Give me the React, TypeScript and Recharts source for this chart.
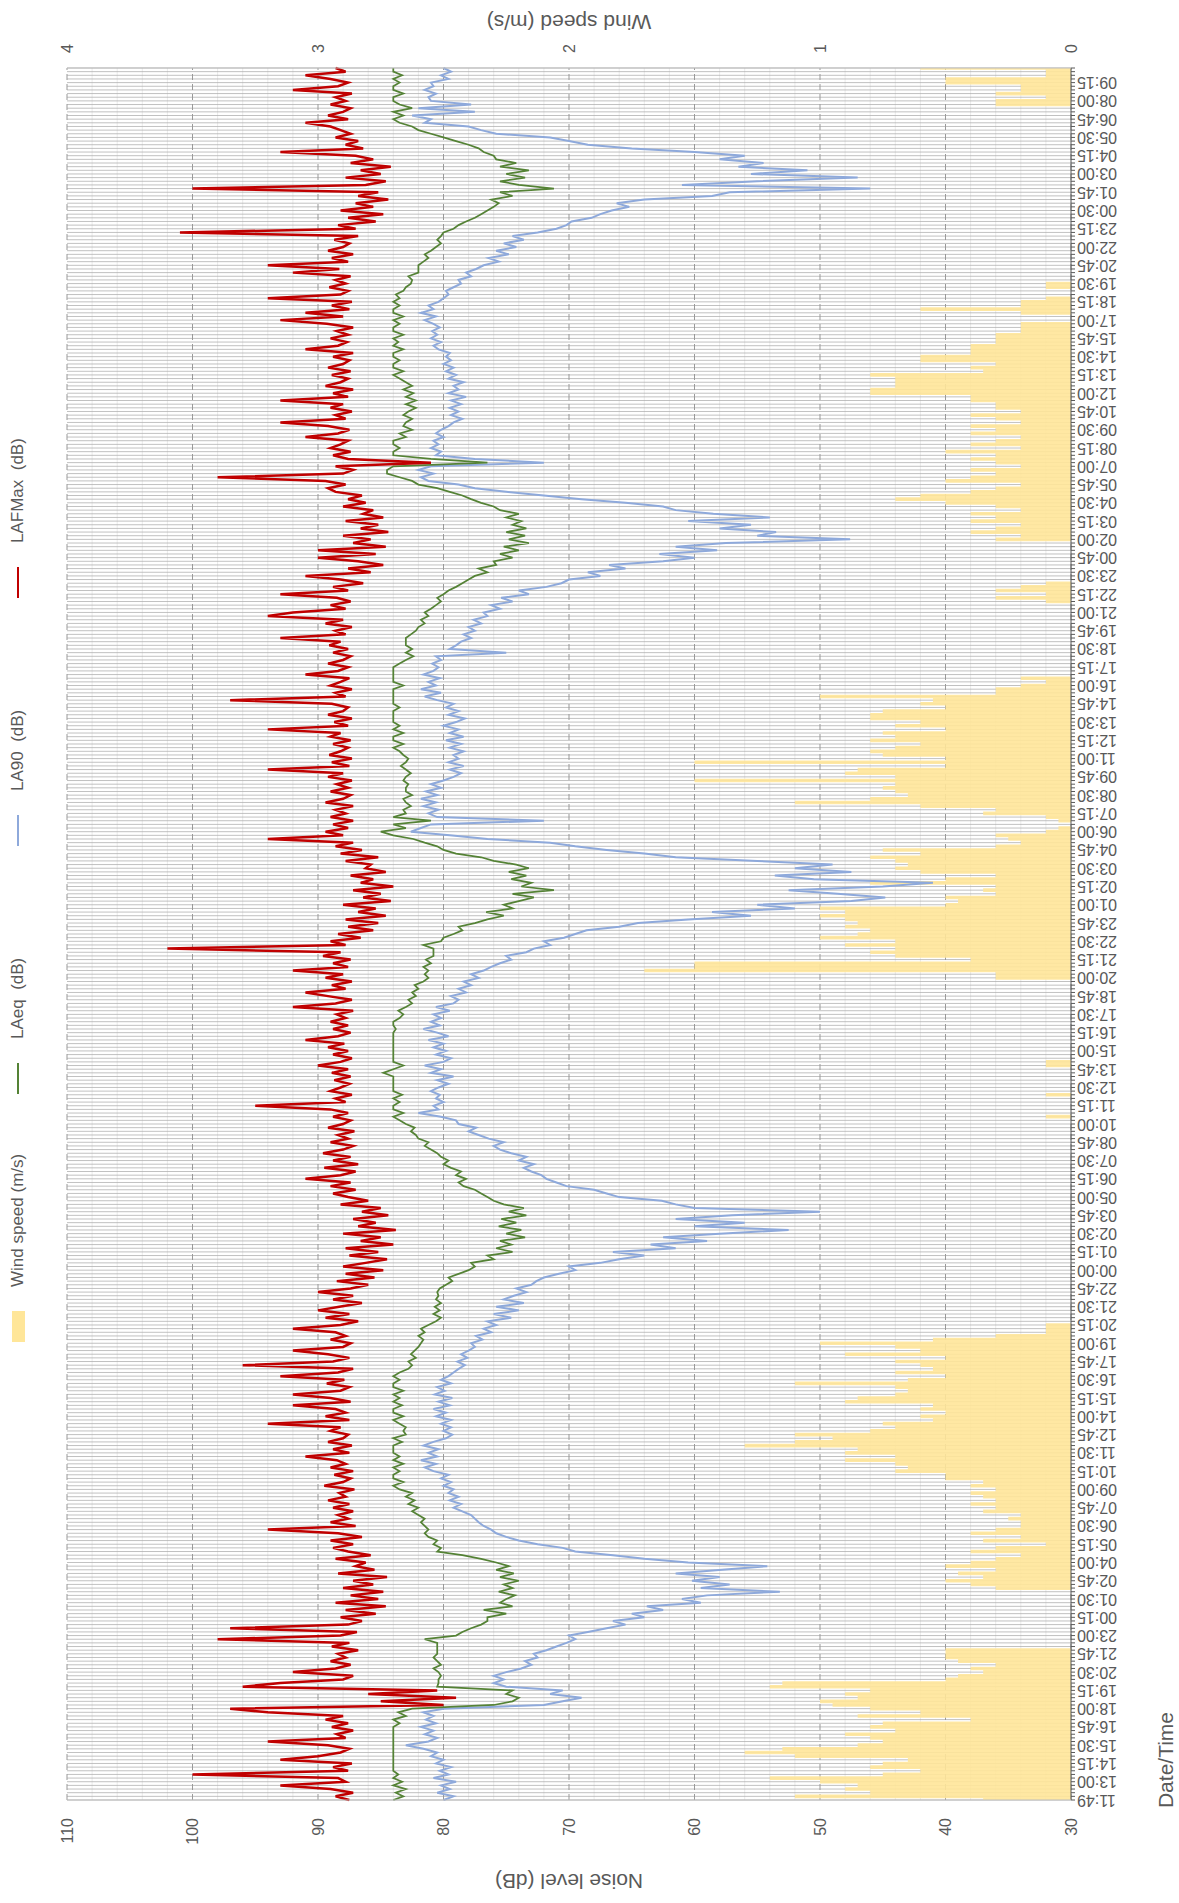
import React from "react";
import {
  ComposedChart,
  Line,
  Area,
  XAxis,
  YAxis,
  CartesianGrid,
  Legend,
  Label,
} from "recharts";

// chart is drawn in its natural orientation and then turned 90deg to the left
const W = 1903;
const H = 1179;
const FONT = '"Liberation Sans", Arial, Helvetica, sans-serif';
const TEXT = "#595959";

const START_LABEL = "11:49";
const FIRST_SLOT = 12 * 60; // 12:00
const STEP_MIN = 15;

const noiseTicks = [30, 40, 50, 60, 70, 80, 90, 100, 110];
const noiseMinor = [32, 34, 36, 38, 42, 44, 46, 48, 52, 54, 56, 58, 62, 64, 66, 68, 72, 74, 76, 78, 82, 84, 86, 88, 92, 94, 96, 98, 102, 104, 106, 108];
const windTicks = [0, 1, 2, 3, 4];

const windSpeed = [
  /*0*/ 0.35, 1.1, 0.8, 0.9, 0.85, 1.0, 1.2, 0.75, 0.6, 0.8,
  /*10*/ 0.75, 0.65, 1.1, 1.3, 1.15, 0.85, 0.75, 0.8, 0.9, 0.7,
  /*20*/ 0.8, 0.75, 0.4, 0.85, 0.6, 0.8, 0.95, 1.0, 0.85, 0.9,
  /*30*/ 0.8, 1.2, 1.15, 0.5, 0.45, 0.35, 0.4, 0.3, 0.45, 0.5,
  /*40*/ 0.5, 0.5, 0, 0, 0, 0, 0, 0, 0, 0,
  /*50*/ 0, 0, 0, 0, 0, 0, 0, 0, 0.3, 0.4,
  /*60*/ 0.5, 0.35, 0.45, 0.3, 0.5, 0.4, 0.3, 0.2, 0.4, 0.3,
  /*70*/ 0.1, 0.35, 0.2, 0.4, 0.3, 0.2, 0.2, 0.25, 0.2, 0.35,
  /*80*/ 0.3, 0.4, 0.3, 0.35, 0.4, 0.3, 0.4, 0.35, 0.5, 0.5,
  /*90*/ 0.7, 0.65, 0.7, 0.9, 0.7, 0.9, 0.85, 1.3, 1.1, 0.95,
  /*100*/ 1.1, 0.8, 0.7, 0.75, 0.55, 0.6, 0.5, 0.6, 0.55, 0.9,
  /*110*/ 0.85, 0.7, 0.65, 0.7, 1.1, 0.65, 0.5, 0.7, 0.55, 0.6,
  /*120*/ 0.7, 0.5, 0.9, 0.6, 0.7, 1.0, 0.55, 0.3, 0.1, 0.1,
  /*130*/ 0.1, 0, 0, 0, 0, 0, 0, 0, 0, 0,
  /*140*/ 0, 0, 0, 0, 0, 0, 0, 0, 0, 0,
  /*150*/ 0, 0, 0, 0, 0, 0, 0, 0, 0, 0,
  /*160*/ 0, 0, 0, 0, 0, 0, 0, 0, 0, 0,
  /*170*/ 0, 0, 0, 0, 0, 0, 0, 0, 0, 0,
  /*180*/ 0, 0, 0, 0, 0, 0, 0, 0.1, 0, 0,
  /*190*/ 0, 0, 0, 0.1, 0, 0, 0, 0, 0, 0,
  /*200*/ 0, 0.1, 0.1, 0, 0, 0, 0, 0, 0, 0,
  /*210*/ 0, 0, 0, 0, 0, 0, 0, 0, 0, 0,
  /*220*/ 0, 0, 0, 0, 0, 0.3, 0.3, 1.7, 1.5, 1.5,
  /*230*/ 0.4, 0.7, 0.8, 0.7, 0.9, 0.7, 1.0, 0.85, 0.8, 0.9,
  /*240*/ 0.85, 0.9, 1.0, 0.9, 1.0, 0.5, 0.45, 0.5, 0.3, 0.35,
  /*250*/ 0.3, 0.8, 0.5, 0.3, 0.6, 0.7, 0.65, 0.7, 0.8, 0.6,
  /*260*/ 0.75, 0.3, 0.2, 0.25, 0.3, 0.1, 0.05, 0, 0.05, 0.1,
  /*270*/ 0.35, 0.3, 0.6, 1.1, 0.8, 0.65, 0.7, 0.75, 0.7, 1.5,
  /*280*/ 0.7, 0.9, 0.85, 0.5, 1.5, 0.5, 0.75, 0.8, 0.7, 0.6,
  /*290*/ 0.8, 0.7, 0.75, 0.5, 0.7, 0.6, 0.8, 0.8, 0.75, 0.5,
  /*300*/ 0.6, 0.55, 1.0, 0.3, 0.3, 0.2, 0.1, 0.2, 0, 0,
  /*310*/ 0, 0, 0, 0, 0, 0, 0, 0, 0, 0,
  /*320*/ 0, 0, 0, 0, 0, 0, 0, 0, 0.1, 0.3,
  /*330*/ 0.1, 0.3, 0.2, 0.1, 0, 0, 0, 0, 0, 0,
  /*340*/ 0, 0, 0, 0, 0, 0.3, 0.2, 0.4, 0.3, 0.2,
  /*350*/ 0.4, 0.3, 0.4, 0.2, 0.3, 0.5, 0.7, 0.6, 0.4, 0.3,
  /*360*/ 0.2, 0.5, 0.4, 0.3, 0.4, 0.2, 0.3, 0.4, 0.3, 0.5,
  /*370*/ 0.2, 0.4, 0.3, 0.2, 0.4, 0.3, 0.4, 0.2, 0.3, 0.4,
  /*380*/ 0.2, 0.3, 0.3, 0.4, 0.4, 0.8, 0.8, 0.7, 0.7, 0.7,
  /*390*/ 0.8, 0.35, 0.4, 0.3, 0.6, 0.6, 0.4, 0.4, 0.4, 0.3,
  /*400*/ 0.3, 0.3, 0.2, 0.2, 0.2, 0, 0, 0.2, 0.6, 0.2,
  /*410*/ 0.2, 0.1, 0, 0, 0.1, 0.1, 0, 0, 0, 0,
  /*420*/ 0, 0, 0, 0, 0, 0, 0, 0, 0, 0,
  /*430*/ 0, 0, 0, 0, 0, 0, 0, 0, 0, 0,
  /*440*/ 0, 0, 0, 0, 0, 0, 0, 0, 0, 0,
  /*450*/ 0, 0, 0, 0, 0, 0, 0, 0, 0, 0,
  /*460*/ 0, 0, 0, 0, 0.3, 0.3, 0.1, 0.3, 0.2, 0.2,
  /*470*/ 0.5, 0.5, 0.1, 0.1, 0.6,
];

const laeq = [
  /*0*/ 84, 83.2, 83.8, 83, 84, 83.3, 84, 83.6, 84, 84,
  /*10*/ 84, 84, 84, 84, 84, 84, 84, 84, 84, 84,
  /*20*/ 84, 83.5, 84, 83, 83.6, 82.5, 76, 74.5, 74, 75,
  /*30*/ 74.5, 80.5, 80.4, 80.4, 80.2, 80.4, 80.8, 80.2, 80.5, 80.8,
  /*40*/ 80.5, 80.5, 80.5, 80.5, 81.5, 79, 78.5, 77.8, 77, 76.5,
  /*50*/ 76.5, 75, 76.8, 74.5, 75.5, 75, 74.3, 75.6, 74.5, 75.2,
  /*60*/ 74, 75.5, 74.4, 75.8, 74.8, 75.8, 77, 78.5, 80.5, 80.2,
  /*70*/ 80.8, 80.5, 81.2, 81.5, 81.2, 81.5, 81.8, 81.5, 82, 82.5,
  /*80*/ 82, 82.8, 82.3, 83, 82.5, 83.5, 84, 83.2, 84, 84,
  /*90*/ 83.5, 84, 83.2, 84, 83.5, 84, 84, 84, 83.3, 84,
  /*100*/ 83, 83.2, 83, 83.5, 84, 83.2, 84, 84, 83.3, 84,
  /*110*/ 83.5, 84, 83.2, 84, 84, 83.5, 84, 83.5, 82.8, 82.5,
  /*120*/ 82.8, 82.2, 82.6, 82.3, 82, 81.8, 81.6, 82, 81.5, 81.8,
  /*130*/ 81.2, 80.6, 80.2, 80.8, 80.3, 80.7, 80.2, 80.6, 80.4, 80.5,
  /*140*/ 80.3, 79.8, 79.3, 79.6, 78.8, 78, 77.5, 77.8, 76, 76.5,
  /*150*/ 74.5, 75.8, 74.6, 75.5, 73.5, 75, 73.8, 75.6, 74.2, 75.4,
  /*160*/ 73.4, 74.8, 73.6, 75.2, 76, 76.5, 77, 77.5, 78.4, 78.8,
  /*170*/ 78.2, 79, 78.6, 79.4, 80, 79.6, 80.2, 80.5, 81, 81.5,
  /*180*/ 81.2, 82, 82.2, 82.6, 82.3, 83, 83.5, 84, 83.2, 84,
  /*190*/ 84, 83.5, 84, 83.3, 84, 84, 84, 84, 84, 84.8,
  /*200*/ 84, 83.2, 84, 84, 84, 84, 84, 84, 84, 84,
  /*210*/ 84, 83.8, 84, 84, 83.5, 83.2, 83.6, 83, 82.5, 82.8,
  /*220*/ 82.2, 82.5, 82, 82.3, 81.6, 81.2, 81.5, 81.2, 81.6, 81,
  /*230*/ 81.4, 80.8, 80.8, 80.8, 81.6, 80.2, 80, 79.2, 78.5, 78.8,
  /*240*/ 77.5, 76.5, 75.2, 76.6, 74.5, 75.2, 74, 72.8, 74.5, 71.2,
  /*250*/ 73.8, 73, 74.6, 73.4, 74.8, 73.2, 74.2, 76, 77, 79,
  /*260*/ 80, 80.5, 81.5, 82.4, 84, 85, 83, 84, 81, 84,
  /*270*/ 83, 83.2, 82.6, 83, 83.2, 82.5, 83, 83, 82.8, 83.2,
  /*280*/ 83, 82.6, 83, 83.4, 83, 82.8, 83.2, 83.5, 84, 83.2,
  /*290*/ 84, 84, 83.2, 84, 83.5, 84, 84, 84, 84, 83.5,
  /*300*/ 84, 84, 84, 84, 84, 83.2, 84, 84, 84, 84,
  /*310*/ 84, 83.5, 83, 82.4, 83, 82.5, 83, 83, 83, 82.6,
  /*320*/ 82.2, 82, 81.5, 81.8, 81.2, 81.5, 81, 80.6, 80.2, 80.5,
  /*330*/ 80, 79.6, 79, 78.5, 78, 77.5, 76.5, 77.2, 75.8, 76,
  /*340*/ 74.5, 75.5, 74, 75.2, 73.2, 74.8, 73.5, 75, 73.4, 74.5,
  /*350*/ 73.8, 75, 74, 75.5, 76, 77, 77.8, 78.5, 79.5, 80.5,
  /*360*/ 82, 82.5, 83.5, 84.5, 84.5, 84, 76.5, 81, 84, 84,
  /*370*/ 83.5, 84, 84, 83, 83.5, 82.5, 83.2, 83, 82.5, 83.2,
  /*380*/ 82.8, 82.2, 83, 82.2, 83, 82.4, 83.2, 82.5, 83, 83.5,
  /*390*/ 84, 83.2, 84, 84, 83.5, 84, 84, 83.2, 84, 83.6,
  /*400*/ 84, 83.2, 84, 84, 83.5, 84, 83.2, 84, 84, 83.5,
  /*410*/ 84, 83.5, 83.8, 83.2, 83, 82.6, 82.5, 82.8, 82, 82,
  /*420*/ 82, 81.6, 81.2, 81.5, 81, 80.6, 80.2, 80.5, 80.2, 80,
  /*430*/ 79.2, 78.8, 78.2, 77.5, 77, 76.5, 76, 75.6, 76.2, 74.5,
  /*440*/ 75.5, 71.2, 74, 75.5, 73.5, 75, 73.2, 75.5, 74.2, 75.8,
  /*450*/ 76, 76.8, 77.2, 78, 79, 80, 81, 82, 82.5, 83.5,
  /*460*/ 84, 83.2, 84, 82.5, 83.5, 84, 84, 83.2, 84, 84,
  /*470*/ 83.5, 84, 83.3, 84, 84,
];

const la90 = [
  /*0*/ 80, 79.2, 80.5, 79.5, 80.2, 79, 80.8, 79.6, 80.3, 79.4,
  /*10*/ 80.6, 80, 81, 80.5, 81.6, 83, 81.2, 80.5, 81.5, 80.8,
  /*20*/ 81.8, 80.6, 81.4, 80.8, 81.6, 80, 72, 70.5, 69, 71.5,
  /*30*/ 70.5, 75, 76, 75.2, 76, 75, 73.8, 73, 73.5, 72.5,
  /*40*/ 72.8, 71.8, 71, 70.2, 69.5, 70, 68.5, 67, 65.5, 66.5,
  /*50*/ 64, 65, 62.5, 63.8, 59.5, 61, 59, 53.2, 59.5, 57.2,
  /*60*/ 60.2, 58, 61.5, 57.8, 54.2, 60.5, 64, 66.5, 69.5, 70.5,
  /*70*/ 72.5, 74, 75, 75.8, 76.2, 76.8, 77.2, 77.5, 77.8, 78.5,
  /*80*/ 79.2, 78.6, 79.5, 78.8, 79.6, 79.2, 80, 79.4, 80.2, 79.6,
  /*90*/ 80.8, 81.5, 80.6, 81.8, 80.5, 81.2, 80.4, 81.6, 80.8, 79.8,
  /*100*/ 79.3, 80, 79.4, 80.2, 79.4, 80.6, 79.8, 80.8, 79.5, 80.4,
  /*110*/ 79.3, 80.7, 79.9, 80.5, 79.4, 80.2, 79.6, 79.2, 78.8, 78.3,
  /*120*/ 78.9, 78.1, 78.6, 78, 77.5, 77.8, 76.9, 77.4, 76.2, 76.8,
  /*130*/ 75.8, 76.5, 74.6, 76, 74, 75.8, 73.6, 75.2, 74.4, 73.4,
  /*140*/ 74.2, 73, 72.6, 72, 70.8, 69.5, 70, 67.5, 66, 64,
  /*150*/ 66.5, 61.5, 63.5, 59, 62.5, 58, 52.5, 60, 56, 61.5,
  /*160*/ 57, 50, 60, 61.5, 62.6, 66, 67, 68, 70.2, 71,
  /*170*/ 71.8, 72.2, 73, 73.6, 72.8, 74, 73.4, 74.6, 75.5, 76,
  /*180*/ 75.2, 76.4, 77.2, 78, 77.4, 78.8, 79, 80.2, 82, 80.4,
  /*190*/ 80.8, 80, 80.6, 80.3, 81, 80.4, 79.6, 80.5, 79.2, 81,
  /*200*/ 80.2, 81.5, 80, 79.4, 80.6, 79.8, 80.8, 80, 81.2, 79.6,
  /*210*/ 80.5, 81.6, 80.3, 81, 80.2, 80.8, 79.5, 80.6, 79.2, 78.8,
  /*220*/ 79.4, 78.2, 78.8, 77.8, 78.4, 77.2, 77.8, 76.8, 76.2, 75.5,
  /*230*/ 74.6, 75, 73.4, 72.8, 71.5, 72, 70.4, 69.5, 68.6, 66,
  /*240*/ 64.5, 60.5, 55.5, 58.6, 52, 55, 47.5, 44.8, 48.6, 52.5,
  /*250*/ 45, 41, 50.5, 53.6, 47.5, 52, 49, 55, 61.5, 64,
  /*260*/ 67, 69.5, 71.5, 76.5, 79.5, 82.6, 81.8, 81, 72, 80.5,
  /*270*/ 81.2, 80.4, 81.6, 80.6, 81.8, 80.5, 81.4, 80.2, 81, 80,
  /*280*/ 79.2, 78.6, 79.5, 78.4, 79.6, 78.8, 79.2, 78.4, 79.5, 78.6,
  /*290*/ 79.8, 78.4, 79.5, 78.8, 80, 79, 78.3, 79.6, 78.8, 79.8,
  /*300*/ 79.2, 80.5, 81.5, 80.2, 81.8, 80.6, 81.2, 80.3, 81.6, 80.8,
  /*310*/ 80.4, 80.9, 80.2, 80.6, 75, 79.5, 79, 78.6, 77.8, 78.4,
  /*320*/ 77.5, 78, 77, 77.6, 76.5, 76.8, 75.5, 76.2, 74.5, 75.4,
  /*330*/ 73.2, 74, 71.8, 70.6, 70, 67.5, 68.5, 65.5, 66.8, 62.5,
  /*340*/ 60, 62.8, 58.2, 61.5, 57.5, 47.6, 55, 53.5, 58, 55.5,
  /*350*/ 60.5, 54, 58.5, 61.5, 62.5, 65.5, 69, 72, 75, 77.5,
  /*360*/ 78.8, 81.2, 81.8, 80.8, 82, 81, 72, 77.5, 80.6, 80.2,
  /*370*/ 81, 80.4, 80.8, 80, 80.6, 80.2, 79.6, 79.2, 78.5, 79.4,
  /*380*/ 78.8, 79.5, 78.6, 79.4, 78.2, 79.6, 78.8, 79.2, 78.4, 79.6,
  /*390*/ 79, 79.8, 79.2, 80, 79.4, 79.8, 79.5, 80.4, 80.8, 80.2,
  /*400*/ 81, 80.5, 80.9, 80.3, 80.8, 81.5, 80.6, 81.8, 80.8, 81.2,
  /*410*/ 80.4, 80, 79.6, 79.8, 79.2, 78.6, 78.8, 77.8, 78.2, 77.4,
  /*420*/ 76.8, 75.6, 76.4, 74.8, 75.8, 74.2, 75.2, 73.6, 74.5, 72.5,
  /*430*/ 71, 70.2, 69.8, 68.2, 67.5, 66.6, 65.2, 66.2, 64, 58.6,
  /*440*/ 57.2, 46, 61, 55, 47, 55.5, 51, 56.5, 54.5, 58,
  /*450*/ 56, 60, 65, 68.5, 70, 71.5, 75.8, 77, 78, 81.5,
  /*460*/ 81, 82.5, 77.5, 82, 77.8, 81, 81.2, 80.6, 81.5, 80.8,
  /*470*/ 81, 79.6, 80.2, 79.4, 80,
];

const lafmax = [
  /*0*/ 87.5, 88.6, 87.2, 89, 93, 87.8, 88.4, 100, 87.6, 88.8,
  /*10*/ 87.3, 93, 90, 88.2, 87.5, 89.2, 94, 87.8, 88.5, 87.2,
  /*20*/ 88.9, 87.6, 89.4, 88, 94, 97, 80, 85, 79, 86,
  /*30*/ 80.5, 96, 93, 88, 87.2, 92, 88.6, 87.4, 89, 87.8,
  /*40*/ 88.4, 86.8, 88.9, 87.5, 98, 88.2, 86.9, 97, 87.6, 86.5,
  /*50*/ 88.2, 85.4, 87.8, 84.6, 88.6, 85.2, 87.4, 84.8, 88, 85.6,
  /*60*/ 87.2, 84.5, 88.4, 85.5, 87, 86.2, 88.6, 85.8, 87.6, 88.8,
  /*70*/ 87.2, 89, 86.5, 88.4, 94, 87, 89, 87.6, 88.4, 87.2,
  /*80*/ 88.8, 87.5, 89.2, 87.8, 88.3, 87.1, 89.5, 88, 87.4, 88.7,
  /*90*/ 87.2, 89, 87.8, 88.5, 91, 87.5, 88.8, 87.3, 89.2, 88,
  /*100*/ 87.6, 89, 88.2, 94, 87.5, 89.4, 87.8, 88.6, 92, 87.4,
  /*110*/ 89, 92, 88.2, 87.5, 89.3, 87.9, 93, 88.4, 87.2, 96,
  /*120*/ 88.8, 87.5, 89.2, 92, 88, 87.4, 89, 87.8, 88.6, 92,
  /*130*/ 88.2, 86.8, 89.4, 87.5, 90, 88.3, 86.5, 88.8, 87.2, 90,
  /*140*/ 87.4, 86, 88.5, 85.5, 87.8, 84.8, 88, 86.2, 84.5, 87.5,
  /*150*/ 85.2, 87.8, 84, 86.6, 85, 88, 83.8, 86.8, 85.4, 87.2,
  /*160*/ 84.4, 86.5, 85, 88.2, 86, 87.6, 88.8, 87, 89, 87.4,
  /*170*/ 91, 88.2, 87, 89.5, 86.8, 88.8, 87.4, 89.6, 88, 87.2,
  /*180*/ 89, 87.6, 88.4, 87.1, 89.2, 88, 87.4, 88.8, 87.6, 89,
  /*190*/ 95, 87.8, 88.6, 87.3, 89, 88.2, 87.5, 88.7, 87.4, 88.9,
  /*200*/ 87.6, 90, 88.2, 87.3, 88.8, 87.6, 89.2, 87.9, 91, 88.4,
  /*210*/ 87.4, 88.8, 87.6, 89, 87.8, 88.5, 87.2, 92, 88.6, 87.3,
  /*220*/ 89.2, 91, 87.8, 88.9, 87.3, 89.4, 88, 92, 87.6, 88.8,
  /*230*/ 87.4, 89.6, 88.2, 102, 87.8, 89, 86.6, 88.4, 85.6, 87.6,
  /*240*/ 85.2, 87.8, 84.6, 86.8, 85.4, 88, 84.2, 86.4, 85, 87.2,
  /*250*/ 84, 86.6, 85.6, 87.4, 84.6, 86.2, 85.8, 87.8, 85.2, 88.2,
  /*260*/ 86.5, 88.6, 87.2, 94, 88, 89.4, 87.6, 88.8, 87.2, 89,
  /*270*/ 87.8, 88.6, 87.2, 89.4, 88, 87.4, 89, 87.6, 88.5, 87.3,
  /*280*/ 89.2, 88, 94, 87.5, 88.9, 87.3, 89.1, 88.2, 87.6, 88.8,
  /*290*/ 87.4, 89, 88.2, 94, 87.6, 88.7, 87.3, 89.2, 88, 87.6,
  /*300*/ 88.9, 97, 87.8, 88.6, 87.3, 89, 88.2, 87.5, 91, 88.4,
  /*310*/ 87.6, 89.2, 88, 87.4, 88.8, 87.6, 89.1, 88.2, 93, 87.8,
  /*320*/ 88.6, 87.3, 89.4, 88, 94, 92, 87.8, 89, 87.4, 88.5,
  /*330*/ 93, 87.6, 88.8, 86.4, 88.2, 91, 85.8, 87.6, 84.8, 86.8,
  /*340*/ 90, 85.4, 90, 84.6, 87.2, 85.8, 88, 84.4, 86.6, 85.2,
  /*350*/ 87.8, 84.8, 86.4, 85.6, 88, 86.2, 87.6, 86.5, 88.6, 89.2,
  /*360*/ 87.8, 89.4, 98, 88, 87.2, 88.6, 81, 87.6, 88.8, 87.4,
  /*370*/ 89, 88.2, 87.6, 91, 88.4, 87.5, 89.2, 93, 87.8, 88.6,
  /*380*/ 87.3, 89, 88, 93, 87.6, 88.8, 87.2, 89.4, 88.2, 87.6,
  /*390*/ 88.9, 87.4, 89.2, 88, 87.5, 88.8, 87.2, 91, 88.4, 87.7,
  /*400*/ 89, 87.6, 88.5, 87.2, 89.3, 93, 88, 91, 87.5, 88.9,
  /*410*/ 87.3, 94, 88.2, 87.6, 89.1, 87.8, 88.6, 87.4, 92, 88.3,
  /*420*/ 94, 87.6, 88.9, 87.2, 89.2, 88, 87.5, 88.7, 86.8, 101,
  /*430*/ 87, 88.4, 85.4, 87.6, 84.8, 88.2, 85.6, 87, 84.4, 86.8,
  /*440*/ 85.2, 100, 86.2, 84.6, 87.8, 85, 86.6, 84.2, 87.4, 85.6,
  /*450*/ 87, 93, 86.4, 87.8, 86.8, 88.6, 87.4, 88.2, 89, 91,
  /*460*/ 87.6, 89.2, 88, 87.4, 89, 87.8, 88.6, 87.3, 92, 88.4,
  /*470*/ 87.6, 89, 91, 87.8, 88.6,
];

const slots = laeq.map((_, i) => i);
const LAST = slots.length - 1;

const timeLabels = slots.map((i) => {
  if (i === 0) return START_LABEL;
  const m = (FIRST_SLOT + (i - 1) * STEP_MIN) % 1440;
  return `${String(Math.floor(m / 60)).padStart(2, "0")}:${String(m % 60).padStart(2, "0")}`;
});

const data = slots.map((i) => ({
  i,
  wind: windSpeed[i],
  laeq: laeq[i],
  la90: la90[i],
  lafmax: lafmax[i],
}));

const legendItems = [
  { name: "Wind speed (m/s)", color: "#FFE699", box: true },
  { name: "LAeq  (dB)", color: "#548235", box: false },
  { name: "LA90  (dB)", color: "#8EA9DB", box: false },
  { name: "LAFMax  (dB)", color: "#C00000", box: false },
];

function LegendBox() {
  return (
    <div style={{ display: "flex", fontFamily: FONT, fontSize: 17, color: TEXT }}>
      {legendItems.map((it) => (
        <div
          key={it.name}
          style={{ width: 248, display: "flex", alignItems: "center", height: 24 }}
        >
          <span
            style={{
              display: "inline-block",
              width: 31,
              height: it.box ? 13 : 2,
              background: it.color,
            }}
          />
          <span style={{ marginLeft: 24, whiteSpace: "pre" }}>{it.name}</span>
        </div>
      ))}
    </div>
  );
}

function DateTick(props: any) {
  const { x, y, payload } = props;
  if (payload.value % 5 !== 0) return <g />;
  return (
    <text
      x={x}
      y={y}
      transform={`rotate(-90 ${x} ${y})`}
      textAnchor="end"
      dominantBaseline="central"
      fill={TEXT}
      fontSize={16}
    >
      {timeLabels[payload.value]}
    </text>
  );
}

export default function App() {
  return (
    <div
      style={{
        position: "absolute",
        left: 0,
        top: 0,
        width: H,
        height: W,
        overflow: "hidden",
        background: "#fff",
      }}
    >
      <div
        style={{
          position: "absolute",
          left: 0,
          top: 0,
          width: W,
          height: H,
          transformOrigin: "0 0",
          transform: `translateY(${W}px) rotate(-90deg)`,
        }}
      >
        <ComposedChart
          width={W}
          height={H}
          data={data}
          margin={{ top: 67, right: 0, bottom: 0, left: 0 }}
          style={{ fontFamily: FONT }}
        >
          <CartesianGrid
            yAxisId="noise"
            vertical={false}
            horizontalValues={noiseMinor}
            stroke="#ebebeb"
          />
          <CartesianGrid
            yAxisId="noise"
            horizontal={false}
            verticalValues={slots}
            stroke="#acacac"
            strokeWidth={0.75}
          />
          <CartesianGrid
            yAxisId="noise"
            vertical={false}
            horizontalValues={noiseTicks}
            stroke="#999999"
            strokeDasharray="6 4"
          />
          <XAxis
            dataKey="i"
            type="number"
            domain={[0, LAST]}
            ticks={slots}
            interval={0}
            height={108}
            tickSize={4}
            tickLine={{ stroke: TEXT }}
            axisLine={{ stroke: TEXT }}
            tick={<DateTick />}
          >
            <Label
              content={() => (
                <text x={143} y={1173} textAnchor="middle" fontSize={21} fill={TEXT}>
                  Date/Time
                </text>
              )}
            />
          </XAxis>
          <YAxis
            yAxisId="noise"
            orientation="left"
            domain={[30, 110]}
            ticks={noiseTicks}
            interval={0}
            width={103}
            tickLine={false}
            tickMargin={12}
            axisLine={{ stroke: "#bfbfbf" }}
            tick={{ fill: TEXT, fontSize: 16 }}
          >
            <Label
              content={() => (
                <text
                  x={22}
                  y={569}
                  transform="rotate(-90 22 569)"
                  textAnchor="middle"
                  dominantBaseline="central"
                  fontSize={21}
                  fill={TEXT}
                >
                  Noise level (dB)
                </text>
              )}
            />
          </YAxis>
          <YAxis
            yAxisId="wind"
            orientation="right"
            domain={[0, 4]}
            ticks={windTicks}
            interval={0}
            width={68}
            tickLine={false}
            tickMargin={9}
            axisLine={{ stroke: "#bfbfbf" }}
            tick={{ fill: TEXT, fontSize: 16 }}
          >
            <Label
              content={() => (
                <text
                  x={1881}
                  y={569}
                  transform="rotate(-90 1881 569)"
                  textAnchor="middle"
                  dominantBaseline="central"
                  fontSize={21}
                  fill={TEXT}
                >
                  Wind speed (m/s)
                </text>
              )}
            />
          </YAxis>
          <Legend
            verticalAlign="middle"
            align="center"
            layout="horizontal"
            content={() => <LegendBox />}
            wrapperStyle={{ top: 6, left: 561, width: 1000, height: 24 }}
          />
          <Area
            yAxisId="wind"
            type="step"
            dataKey="wind"
            fill="#FFE699"
            fillOpacity={0.9}
            stroke="none"
            isAnimationActive={false}
          />
          <Line
            yAxisId="noise"
            type="linear"
            dataKey="la90"
            stroke="#8EA9DB"
            strokeWidth={2}
            dot={false}
            isAnimationActive={false}
          />
          <Line
            yAxisId="noise"
            type="linear"
            dataKey="laeq"
            stroke="#548235"
            strokeWidth={1.75}
            dot={false}
            isAnimationActive={false}
          />
          <Line
            yAxisId="noise"
            type="linear"
            dataKey="lafmax"
            stroke="#C00000"
            strokeWidth={2.5}
            dot={false}
            isAnimationActive={false}
          />
        </ComposedChart>
      </div>
    </div>
  );
}
